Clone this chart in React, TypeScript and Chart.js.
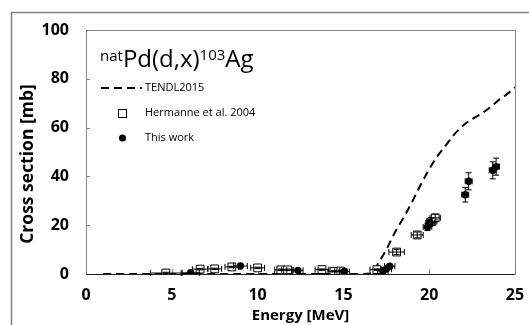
import React, { useEffect, useRef } from "react";
import { Chart, registerables } from "chart.js";

Chart.register(...registerables);

// TENDL-2015 evaluated excitation function
const tendlEnergy = [1, 2, 4, 6, 8, 10, 12, 14, 16, 16.7, 17, 17.5, 18, 18.5, 19, 19.5, 20, 20.5, 21, 21.5, 22, 22.5, 23, 23.5, 24, 24.5, 25];
const tendlValues = [0, 0, 0, 0, 0, 0, 0, 0, 0, 0.3, 4, 10, 17, 23, 29.5, 36.5, 43, 48.5, 53, 57.5, 61, 63.5, 65.5, 68, 71, 73.5, 76.5];

// Hermanne et al. 2004
const hermanneEnergy = [4.65, 6.65, 7.5, 8.5, 10.0, 11.35, 11.75, 13.75, 14.45, 14.85, 16.95, 18.1, 19.3, 20.15, 20.35];
const hermanneValues = [0.4, 2.0, 2.1, 2.9, 2.5, 1.7, 1.7, 1.8, 1.1, 1.2, 1.8, 9.0, 16.0, 21.5, 23.0];
const hermanneEnergyErr = [0.9, 0.45, 0.4, 0.4, 0.4, 0.35, 0.35, 0.4, 0.35, 0.35, 0.4, 0.45, 0.35, 0.3, 0.3];
const hermanneValueErr = [0.3, 0.3, 0.3, 0.3, 0.3, 0.3, 0.3, 0.3, 0.3, 0.3, 0.3, 1.0, 1.2, 1.5, 1.5];

// This work
const thisWorkEnergy = [6.1, 9.0, 12.35, 15.05, 17.3, 17.5, 17.7, 19.9, 20.05, 22.1, 22.3, 23.7, 23.9];
const thisWorkValues = [0.5, 3.3, 1.5, 1.0, 1.2, 2.0, 3.2, 19.3, 21.0, 32.5, 38.0, 42.5, 44.0];
const thisWorkEnergyErr = [0.5, 0.4, 0.3, 0.3, 0.3, 0.3, 0.3, 0.25, 0.25, 0.2, 0.2, 0.2, 0.2];
const thisWorkValueErr = [0.2, 0.3, 0.2, 0.2, 0.2, 0.3, 0.4, 1.5, 1.5, 3.0, 3.5, 3.5, 3.5];

// Axis ticks
const xTicks = [0, 5, 10, 15, 20, 25];
const yTicks = [0, 20, 40, 60, 80, 100];

const legendLabels = ["TENDL2015", "Hermanne et al. 2004", "This work"];
const xTitle = "Energy [MeV]";
const yTitle = "Cross section [mb]";

const FONT = "'Open Sans', 'DejaVu Sans', sans-serif";

const toPoints = (xs: number[], ys: number[]) => xs.map((x, i) => ({ x, y: ys[i] }));

const errorBarPlugin = {
  id: "errorBars",
  afterDatasetsDraw(chart: any) {
    const { ctx, scales } = chart;
    const xs = scales.x;
    const ys = scales.y;
    ctx.save();
    ctx.strokeStyle = "#000";
    ctx.lineWidth = 1;
    chart.data.datasets.forEach((ds: any) => {
      if (!ds.errX && !ds.errY) return;
      ds.data.forEach((p: any, i: number) => {
        const cx = xs.getPixelForValue(p.x);
        const cy = ys.getPixelForValue(p.y);
        const cap = 3;
        if (ds.errX) {
          const x1 = xs.getPixelForValue(p.x - ds.errX[i]);
          const x2 = xs.getPixelForValue(p.x + ds.errX[i]);
          ctx.beginPath();
          ctx.moveTo(x1, cy);
          ctx.lineTo(x2, cy);
          ctx.moveTo(x1, cy - cap);
          ctx.lineTo(x1, cy + cap);
          ctx.moveTo(x2, cy - cap);
          ctx.lineTo(x2, cy + cap);
          ctx.stroke();
        }
        if (ds.errY) {
          const y1 = ys.getPixelForValue(p.y - ds.errY[i]);
          const y2 = ys.getPixelForValue(p.y + ds.errY[i]);
          ctx.beginPath();
          ctx.moveTo(cx, y1);
          ctx.lineTo(cx, y2);
          ctx.moveTo(cx - cap, y1);
          ctx.lineTo(cx + cap, y1);
          ctx.moveTo(cx - cap, y2);
          ctx.lineTo(cx + cap, y2);
          ctx.stroke();
        }
      });
    });
    ctx.restore();
  },
};

const framePlugin = {
  id: "frame",
  beforeDraw(chart: any) {
    const { ctx, chartArea, scales } = chart;
    ctx.save();
    ctx.fillStyle = "#fff";
    ctx.fillRect(0, 0, chart.width, chart.height);
    // outer frame
    ctx.strokeStyle = "#7f7f7f";
    ctx.lineWidth = 1.5;
    ctx.beginPath();
    ctx.moveTo(11.5, chart.height + 5);
    ctx.lineTo(11.5, 12.5);
    ctx.lineTo(chart.width + 5, 12.5);
    ctx.stroke();
    // plot area frame
    const { left, right, top, bottom } = chartArea;
    ctx.lineWidth = 1;
    ctx.strokeStyle = "#8a8a8a";
    ctx.strokeRect(Math.round(left) + 0.5, Math.round(top) + 0.5, Math.round(right - left), Math.round(bottom - top));
    // inner ticks
    ctx.strokeStyle = "#7f7f7f";
    ctx.beginPath();
    scales.y.ticks.forEach((t: any) => {
      const y = Math.round(scales.y.getPixelForValue(t.value)) + 0.5;
      ctx.moveTo(left, y);
      ctx.lineTo(left + 4, y);
    });
    scales.x.ticks.forEach((t: any) => {
      const x = Math.round(scales.x.getPixelForValue(t.value)) + 0.5;
      ctx.moveTo(x, bottom);
      ctx.lineTo(x, bottom - 5);
    });
    ctx.stroke();
    ctx.restore();
  },
  afterDatasetsDraw(chart: any) {
    const { ctx, chartArea } = chart;
    ctx.save();
    ctx.strokeStyle = "#222";
    ctx.lineWidth = 1;
    ctx.beginPath();
    ctx.moveTo(chartArea.left, Math.round(chartArea.bottom) + 0.5);
    ctx.lineTo(chartArea.right, Math.round(chartArea.bottom) + 0.5);
    ctx.stroke();
    ctx.restore();
  },
  afterDraw(chart: any) {
    const { ctx, chartArea } = chart;
    ctx.save();
    ctx.fillStyle = "#000";
    // Title with superscripts
    let x = 100;
    const base = 67;
    const parts: [string, number, number][] = [
      ["nat", 15, -6],
      ["Pd(d,x)", 24, 0],
      ["103", 15, -7],
      ["Ag", 24, 0],
    ];
    ctx.textBaseline = "alphabetic";
    ctx.textAlign = "left";
    parts.forEach(([txt, size, dy]) => {
      ctx.font = `normal ${size}px ${FONT}`;
      ctx.fillText(txt, x, base + dy);
      x += ctx.measureText(txt).width;
    });
    // Legend
    ctx.font = `normal 11px ${FONT}`;
    ctx.textBaseline = "middle";
    const lx = 145;
    const rows = [88, 113, 138];
    // dashed line sample
    ctx.strokeStyle = "#000";
    ctx.lineWidth = 2;
    ctx.setLineDash([8, 5]);
    ctx.beginPath();
    ctx.moveTo(101, rows[0]);
    ctx.lineTo(142, rows[0]);
    ctx.stroke();
    ctx.setLineDash([]);
    // square
    ctx.lineWidth = 1;
    ctx.fillStyle = "#fff";
    ctx.fillRect(118.5, rows[1] - 3.5, 8, 8);
    ctx.strokeRect(118.5, rows[1] - 3.5, 8, 8);
    // circle
    ctx.fillStyle = "#000";
    ctx.beginPath();
    ctx.arc(122.5, rows[2], 3.5, 0, Math.PI * 2);
    ctx.fill();
    legendLabels.forEach((l, i) => ctx.fillText(l, lx, rows[i]));
    // axis titles
    ctx.font = `bold 15px ${FONT}`;
    ctx.textAlign = "center";
    ctx.textBaseline = "top";
    ctx.fillText(xTitle, (chartArea.left + chartArea.right) / 2, 308);
    ctx.font = `bold 17.5px ${FONT}`;
    ctx.translate(28, 164);
    ctx.rotate(-Math.PI / 2);
    ctx.textBaseline = "middle";
    ctx.fillText(yTitle, 0, 0);
    ctx.restore();
  },
};

export default function App() {
  const ref = useRef<HTMLCanvasElement | null>(null);
  useEffect(() => {
    if (!ref.current) return;
    const chart = new Chart(ref.current, {
      type: "scatter",
      data: {
        datasets: [
          {
            label: legendLabels[2],
            data: toPoints(thisWorkEnergy, thisWorkValues),
            pointStyle: "circle",
            pointRadius: 3.7,
            pointBackgroundColor: "#000",
            pointBorderColor: "#000",
            borderWidth: 0,
            errX: thisWorkEnergyErr,
            errY: thisWorkValueErr,
            order: 0,
          } as any,
          {
            label: legendLabels[1],
            data: toPoints(hermanneEnergy, hermanneValues),
            pointStyle: "rect",
            pointRadius: 5.5,
            pointBackgroundColor: "#fff",
            pointBorderColor: "#000",
            pointBorderWidth: 1,
            errX: hermanneEnergyErr,
            errY: hermanneValueErr,
            order: 1,
          } as any,
          {
            label: legendLabels[0],
            data: toPoints(tendlEnergy, tendlValues),
            showLine: true,
            borderColor: "#000",
            borderWidth: 2,
            borderDash: [8, 5],
            pointRadius: 0,
            cubicInterpolationMode: "monotone",
            order: 2,
          } as any,
        ],
      },
      options: {
        responsive: false,
        animation: false,
        layout: { padding: { left: 0, top: 30, right: 14, bottom: 0 } },
        plugins: { legend: { display: false }, tooltip: { enabled: false } },
        scales: {
          x: {
            type: "linear",
            min: 0,
            max: 25,
            afterBuildTicks: (s: any) => {
              s.ticks = xTicks.map((v) => ({ value: v }));
            },
            afterFit: (s: any) => {
              s.height = 51;
              s.paddingLeft = 0;
              s.paddingRight = 0;
            },
            grid: { display: false, drawTicks: false },
            border: { display: false },
            ticks: { color: "#000", padding: 12, font: { family: FONT, size: 16, weight: "bold" } },
          },
          y: {
            type: "linear",
            min: 0,
            max: 100,
            afterBuildTicks: (s: any) => {
              s.ticks = yTicks.map((v) => ({ value: v }));
            },
            afterFit: (s: any) => {
              s.width = 86;
              s.paddingTop = 0;
              s.paddingBottom = 0;
            },
            grid: { display: false, drawTicks: false },
            border: { display: false },
            ticks: { color: "#000", padding: 17, font: { family: FONT, size: 16, weight: "bold" } },
          },
        },
      },
      plugins: [framePlugin, errorBarPlugin],
    });
    return () => chart.destroy();
  }, []);
  return (
    <div style={{ position: "fixed", left: 0, top: 0, width: 529, height: 325, background: "#fff" }}>
      <canvas ref={ref} width={529} height={325} style={{ display: "block" }} />
    </div>
  );
}
